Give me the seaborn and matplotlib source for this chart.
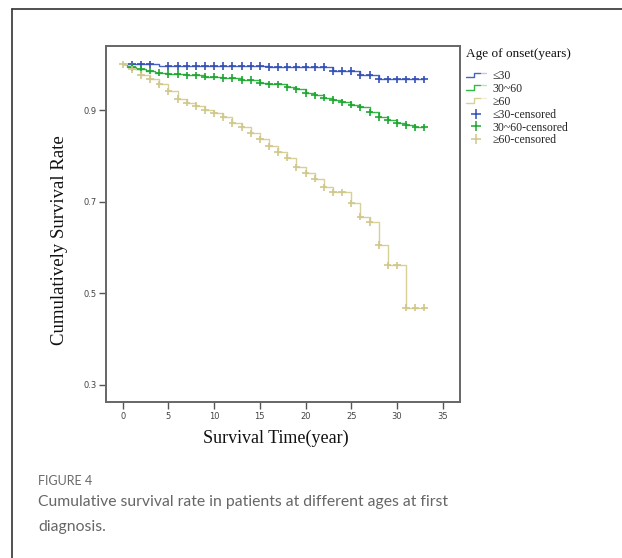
import numpy as np
import pandas as pd
import matplotlib
matplotlib.use("Agg")
import matplotlib.pyplot as plt
import seaborn as sns
from matplotlib.lines import Line2D
from matplotlib.legend_handler import HandlerBase

# ---------------- data ----------------
groups = ["≤30", "30~60", "≥60"]

# step times and survival after each step (Kaplan-Meier curves)
young_t = [0, 4, 16, 23, 26, 28]
young_s = [1.0, 0.996, 0.994, 0.985, 0.977, 0.967]

mid_t = [0, 0.5, 1.5, 2.5, 3.5, 5, 7, 9, 11, 13, 15, 16, 18, 19, 20, 21, 22,
         23, 24, 25, 26, 27, 28, 29, 30, 31, 32]
mid_s = [1.0, 0.994, 0.990, 0.986, 0.982, 0.979, 0.976, 0.973, 0.970, 0.966,
         0.960, 0.956, 0.950, 0.945, 0.937, 0.932, 0.927, 0.922, 0.917, 0.912,
         0.906, 0.895, 0.885, 0.878, 0.872, 0.867, 0.862]

old_t = [0, 1, 2, 3, 4, 5, 6, 7, 8, 9, 10, 11, 12, 13, 14, 15, 16, 17, 18, 19,
         20, 21, 22, 23, 25, 26, 27, 28, 29, 31]
old_s = [1.0, 0.989, 0.977, 0.967, 0.956, 0.941, 0.924, 0.916, 0.909, 0.900,
         0.893, 0.885, 0.872, 0.863, 0.849, 0.836, 0.821, 0.808, 0.796, 0.775,
         0.762, 0.750, 0.731, 0.720, 0.696, 0.667, 0.655, 0.605, 0.561, 0.468]

follow_end = 33

# censoring times
young_c = [1, 2, 3] + list(range(5, 34))
mid_c = list(range(1, 34))
old_c = list(range(0, 34))

x_ticks = [0, 5, 10, 15, 20, 25, 30, 35]
y_ticks = [0.3, 0.5, 0.7, 0.9]

line_colors = ["#4a62c0", "#33b845", "#d8d197"]
cens_colors = ["#3550b5", "#1fa532", "#d0c78a"]

# ---------------- build tables ----------------
steps = {"≤30": (young_t, young_s, young_c),
         "30~60": (mid_t, mid_s, mid_c),
         "≥60": (old_t, old_s, old_c)}

rows, crows = [], []
for g in groups:
    t, s, c = steps[g]
    for ti, si in zip(t + [follow_end], s + [s[-1]]):
        rows.append({"time": ti, "surv": si, "group": g})
    t_arr = np.array(t)
    for ci in c:
        idx = np.searchsorted(t_arr, ci, side="right") - 1
        crows.append({"time": ci, "surv": s[idx], "group": g + "-censored"})
curve_df = pd.DataFrame(rows)
cens_df = pd.DataFrame(crows)

# ---------------- figure ----------------
sns.set_style("white")
plt.rcParams["font.family"] = ["DejaVu Sans"]

W, H = 622, 558
fig = plt.figure(figsize=(W / 100, H / 100), dpi=100)
ax = fig.add_axes([106 / W, 1 - 402 / H, (460 - 106) / W, (402 - 46) / H])

sns.lineplot(data=curve_df, x="time", y="surv", hue="group", hue_order=groups,
             palette=line_colors, drawstyle="steps-post", estimator=None,
             linewidth=1.0, ax=ax, legend=False)
sns.scatterplot(data=cens_df, x="time", y="surv", hue="group",
                hue_order=[g + "-censored" for g in groups],
                palette=cens_colors, marker="+", s=28, linewidth=1.2,
                ax=ax, legend=False, zorder=3)

ax.set_xlim(-1.83, 36.9)
ax.set_ylim(0.262, 1.04)
ax.set_xticks(x_ticks)
ax.set_yticks(y_ticks)
ax.set_xticklabels([str(v) for v in x_ticks])
ax.set_yticklabels([f"{v:.1f}" for v in y_ticks])
ax.tick_params(axis="both", direction="out", length=5, width=1.0,
               color="#555555", labelsize=6, labelcolor="#444444", pad=2,
               left=True, bottom=True)
for sp in ax.spines.values():
    sp.set_color("#666666")
    sp.set_linewidth(1.4)
ax.set_xlabel("")
ax.set_ylabel("")

serif = ["Liberation Serif", "DejaVu Serif"]
fig.text(276 / W, 1 - 438 / H, "Survival Time(year)", family=serif,
         fontsize=13, ha="center", va="center", color="#111111")
fig.text(60 / W, 1 - 240 / H, "Cumulatively Survival Rate", family=serif,
         fontsize=13.5, ha="center", va="center", rotation=90, color="#111111")


# legend with step icons
class StepHandler(HandlerBase):
    def create_artists(self, legend, orig_handle, xdescent, ydescent,
                       width, height, fontsize, trans):
        col = orig_handle.get_color()
        x0, y0 = -xdescent, -ydescent
        xs = [x0, x0 + 0.4 * width, x0 + 0.4 * width, x0 + 0.7 * width]
        ys = [y0 + 0.25 * height, y0 + 0.25 * height, y0 + 0.8 * height, y0 + 0.8 * height]
        l1 = Line2D(xs, ys, color=col, lw=1.0, transform=trans)
        l2 = Line2D([x0 + 0.7 * width, x0 + width], [y0 + 0.8 * height] * 2,
                    color=col, lw=1.0, alpha=0.35, transform=trans)
        return [l1, l2]


line_handles = [Line2D([], [], color=c) for c in line_colors]
cens_handles = [Line2D([], [], color=c, marker="+", linestyle="none",
                       markersize=7.5, mew=1.1) for c in cens_colors]
labels = groups + [g + "-censored" for g in groups]
handler_map = {h: StepHandler() for h in line_handles}
leg = fig.legend(line_handles + cens_handles, labels, handler_map=handler_map,
                 loc="upper left", bbox_to_anchor=(458 / W, 1 - 62 / H),
                 frameon=False,
                 prop={"family": serif, "size": 8.5},
                 handlelength=1.7, handletextpad=0.5,
                 labelspacing=0.07, borderpad=0.2)
fig.text(466 / W, 1 - 48.5 / H, "Age of onset(years)", family=serif,
         fontsize=9.5, ha="left", va="top", color="#111111")

# outer frame (top and left borders)
fig.add_artist(Line2D([12 / W, 1], [1 - 9 / H, 1 - 9 / H], color="#333333", lw=1.2,
                      transform=fig.transFigure))
fig.add_artist(Line2D([12 / W, 12 / W], [0, 1 - 9 / H], color="#333333", lw=1.2,
                      transform=fig.transFigure))

# caption
cap = ["Lato", "Open Sans", "DejaVu Sans"]
fig.text(38 / W, 1 - 481 / H, "FIGURE 4", family=cap, fontsize=9,
         ha="left", va="center", color="#6a6a6a")
fig.text(38 / W, 1 - 502 / H,
         "Cumulative survival rate in patients at different ages at first",
         family=cap, fontsize=11.3, ha="left", va="center", color="#666666")
fig.text(38 / W, 1 - 527 / H, "diagnosis.", family=cap, fontsize=11.3,
         ha="left", va="center", color="#666666")

fig.savefig("out.png", dpi=100)
